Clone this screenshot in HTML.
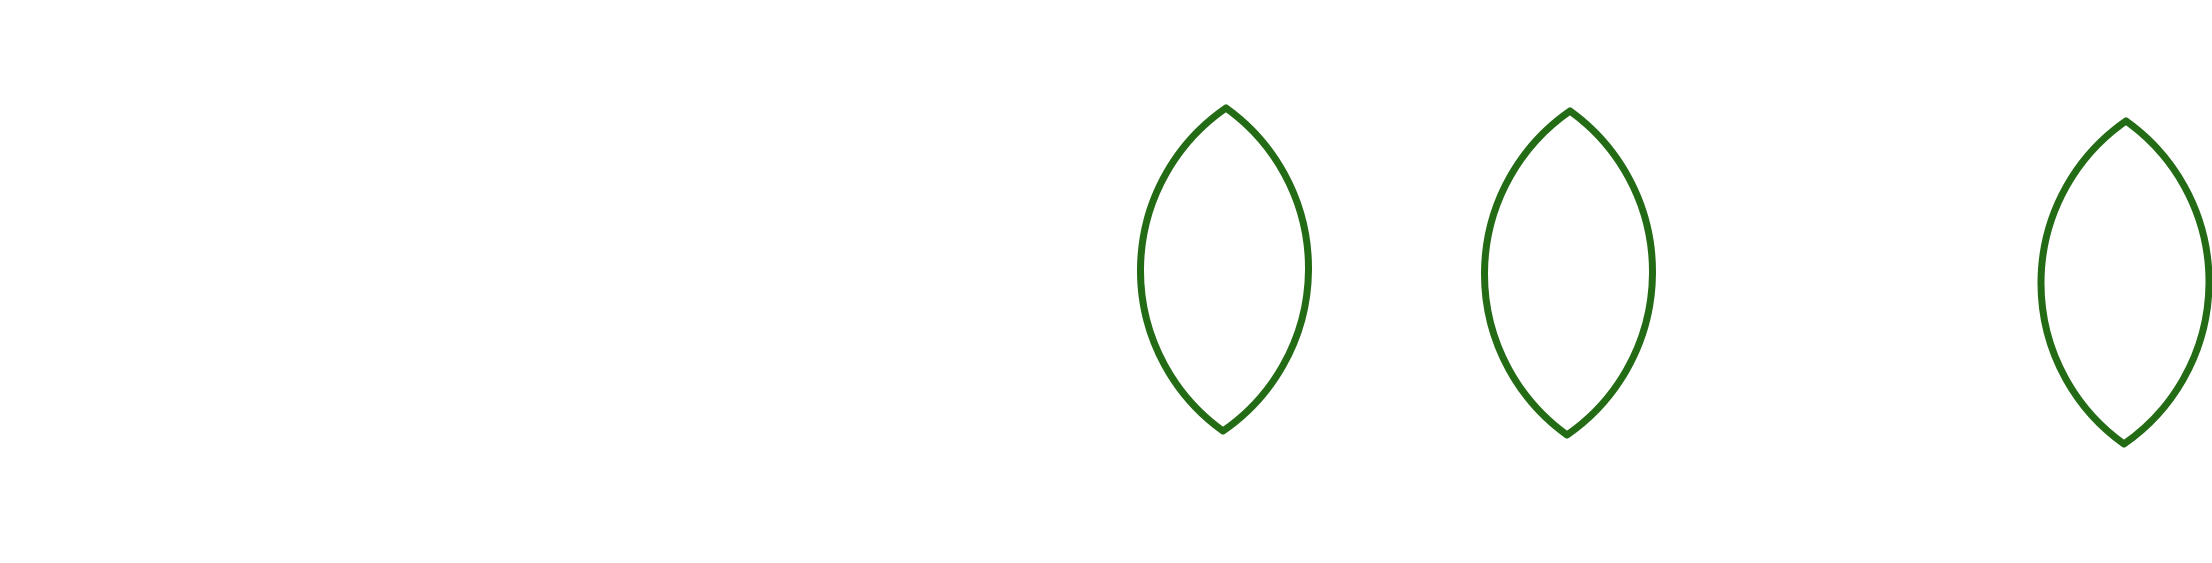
<!DOCTYPE html>
<html><head><meta charset="utf-8"><style>
html,body{margin:0;padding:0;background:#fff;width:2212px;height:563px;overflow:hidden}
svg{display:block}
</style></head><body>
<svg id="chart" width="2212" height="563" viewBox="0 0 2212 563" xmlns="http://www.w3.org/2000/svg">
<rect x="0" y="0" width="2212" height="563" fill="#ffffff"/>
<g id="marks"></g>
</svg>
<script>
const lensTopX = [1226, 1570, 2126];
const lensTopY = [108, 111, 121];
const lensBottomX = [1223, 1567, 2124];
const lensBottomY = [431, 435, 444];
const lensHalfWidth = [84, 84, 84];

const g = document.getElementById('marks');
const ns = 'http://www.w3.org/2000/svg';
for (let i = 0; i < lensTopX.length; i++) {
  const x1 = lensTopX[i], y1 = lensTopY[i], x2 = lensBottomX[i], y2 = lensBottomY[i];
  const w = lensHalfWidth[i];
  const h = Math.hypot(x2 - x1, y2 - y1);
  const r = (h * h / 4 + w * w) / (2 * w);
  const p = document.createElementNS(ns, 'path');
  p.setAttribute('d', `M${x1},${y1} A${r},${r} 0 0 1 ${x2},${y2} A${r},${r} 0 0 1 ${x1},${y1} Z`);
  p.setAttribute('fill', 'none');
  p.setAttribute('stroke', '#236b14');
  p.setAttribute('stroke-width', '7');
  p.setAttribute('stroke-linejoin', 'round');
  
  
  g.appendChild(p);
}
</script>
</body></html>
